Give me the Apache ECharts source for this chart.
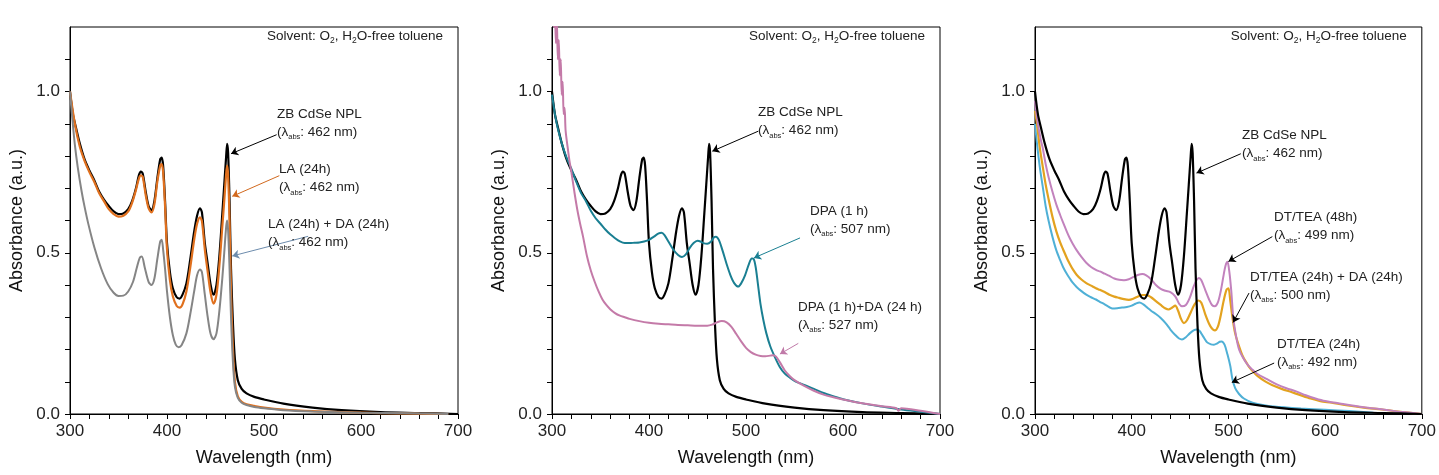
<!DOCTYPE html>
<html><head><meta charset="utf-8">
<script src="https://cdn.jsdelivr.net/npm/echarts@6/dist/echarts.min.js"></script>
<style>html,body{margin:0;padding:0;background:#fff}#c{width:1439px;height:475px}</style>
</head><body><div id="c"></div><script>
// ---- data: [wavelength (nm), absorbance (a.u.)] ----
const ZB_CdSe_NPL = [[300,1.00],[303,0.93],[306,0.89],[310,0.84],[315,0.79],[320,0.755],[325,0.725],[330,0.69],[335,0.665],[340,0.645],[345,0.628],[350,0.62],[355,0.622],[360,0.635],[364,0.66],[368,0.70],[371,0.74],[373,0.752],[375,0.745],[378,0.69],[381,0.645],[384,0.632],[387,0.66],[390,0.73],[393,0.79],[394.5,0.795],[396,0.77],[398,0.66],[400,0.53],[403,0.44],[406,0.39],[410,0.362],[413,0.358],[416,0.37],[420,0.405],[424,0.48],[428,0.565],[431,0.615],[434,0.638],[436,0.625],[439,0.53],[442,0.465],[445,0.40],[448,0.37],[451,0.40],[454,0.49],[457,0.62],[459,0.71],[461,0.80],[462,0.838],[463,0.81],[464.5,0.66],[466,0.45],[468,0.28],[470,0.17],[473,0.105],[477,0.078],[482,0.064],[490,0.053],[500,0.045],[520,0.032],[550,0.02],[580,0.012],[620,0.006],[660,0.003],[700,0.0]];
const LA_24h = [[300,1.0],[305,0.90],[310,0.83],[315,0.785],[320,0.75],[325,0.72],[330,0.685],[335,0.66],[340,0.635],[345,0.62],[350,0.612],[355,0.615],[360,0.628],[364,0.655],[368,0.695],[371,0.73],[373,0.74],[375,0.735],[378,0.68],[381,0.638],[384,0.625],[387,0.65],[390,0.72],[393,0.77],[394.5,0.775],[396,0.75],[398,0.645],[400,0.51],[403,0.415],[406,0.365],[410,0.335],[413,0.33],[416,0.34],[420,0.38],[424,0.455],[428,0.54],[431,0.59],[434,0.61],[436,0.598],[439,0.51],[442,0.44],[445,0.375],[448,0.342],[451,0.37],[454,0.46],[457,0.58],[459,0.66],[461,0.745],[462,0.77],[463,0.74],[464.5,0.6],[466,0.38],[468,0.2],[470,0.1],[473,0.055],[477,0.038],[482,0.03],[490,0.025],[500,0.02],[520,0.014],[550,0.009],[580,0.006],[620,0.003],[660,0.001],[690,0.0]];
const LA_24h_DA_24h = [[300,1.0],[302,0.93],[305,0.835],[308,0.765],[312,0.69],[315,0.643],[319,0.588],[325,0.518],[332,0.452],[339,0.402],[345,0.376],[350,0.366],[355,0.367],[360,0.38],[365,0.41],[369,0.455],[372,0.485],[374,0.488],[377,0.455],[381,0.41],[384,0.40],[387,0.42],[390,0.48],[393,0.535],[394.5,0.54],[396,0.51],[398,0.45],[400,0.38],[403,0.30],[406,0.245],[409,0.215],[412,0.207],[415,0.213],[420,0.25],[424,0.31],[428,0.38],[431,0.43],[434,0.448],[436,0.44],[439,0.37],[442,0.3],[445,0.248],[448,0.232],[451,0.25],[454,0.32],[457,0.42],[459,0.5],[461,0.58],[462,0.6],[463,0.57],[464.5,0.45],[466,0.3],[468,0.16],[470,0.085],[473,0.05],[477,0.035],[482,0.028],[490,0.022],[500,0.018],[520,0.012],[550,0.008],[600,0.004],[650,0.002],[690,0.0]];
const DPA_1h = [[300,0.99],[303,0.93],[306,0.885],[310,0.84],[315,0.795],[320,0.76],[325,0.72],[330,0.685],[335,0.66],[340,0.63],[345,0.607],[350,0.59],[355,0.572],[360,0.557],[365,0.545],[370,0.535],[375,0.53],[380,0.53],[385,0.531],[390,0.532],[395,0.535],[400,0.54],[405,0.55],[410,0.56],[413,0.562],[416,0.555],[420,0.535],[425,0.51],[430,0.493],[434,0.487],[438,0.495],[442,0.515],[446,0.53],[450,0.537],[453,0.535],[456,0.53],[460,0.528],[464,0.535],[467,0.548],[469,0.55],[472,0.54],[476,0.505],[480,0.465],[484,0.43],[488,0.405],[492,0.395],[495,0.405],[499,0.43],[503,0.465],[506,0.482],[508,0.48],[510,0.455],[512,0.41],[515,0.34],[518,0.29],[521,0.25],[525,0.21],[530,0.175],[535,0.145],[540,0.125],[545,0.113],[550,0.103],[560,0.09],[570,0.078],[580,0.065],[590,0.055],[600,0.046],[620,0.033],[640,0.023],[660,0.014],[680,0.007],[700,0.0]];
const DPA_1h_DA_24h = [[300,1.25],[301,1.3],[302,1.2],[303,1.26],[304,1.15],[305,1.22],[306,1.1],[307,1.16],[308,1.05],[309,1.1],[310,0.99],[311,1.03],[312,0.93],[313,0.95],[314,0.88],[316,0.83],[318,0.785],[320,0.75],[323,0.69],[326,0.635],[329,0.59],[332,0.55],[336,0.49],[340,0.445],[344,0.41],[348,0.38],[352,0.355],[356,0.338],[360,0.325],[365,0.313],[370,0.305],[375,0.3],[380,0.295],[390,0.288],[400,0.283],[410,0.28],[420,0.278],[430,0.276],[440,0.275],[450,0.274],[460,0.274],[465,0.277],[470,0.284],[475,0.288],[480,0.284],[485,0.27],[490,0.248],[495,0.225],[500,0.205],[505,0.192],[510,0.184],[515,0.18],[520,0.179],[525,0.181],[528,0.182],[531,0.178],[535,0.16],[540,0.135],[545,0.118],[550,0.105],[560,0.087],[570,0.072],[580,0.06],[590,0.052],[600,0.045],[620,0.033],[640,0.024],[655,0.018],[657,0.01],[660,0.018],[680,0.01],[700,0.0]];
const DTTEA_48h = [[300,0.97],[303,0.9],[306,0.85],[308,0.825],[311,0.775],[314,0.735],[318,0.69],[322,0.65],[326,0.617],[329,0.594],[333,0.565],[336,0.545],[339,0.528],[343,0.508],[348,0.487],[353,0.469],[358,0.456],[363,0.447],[367,0.442],[372,0.435],[377,0.428],[382,0.42],[387,0.416],[392,0.415],[397,0.418],[402,0.425],[407,0.432],[411,0.434],[415,0.43],[420,0.418],[425,0.4],[430,0.388],[435,0.382],[440,0.378],[445,0.365],[449,0.342],[452,0.334],[456,0.338],[460,0.36],[464,0.395],[467,0.415],[469.5,0.422],[472,0.415],[476,0.385],[480,0.355],[483,0.338],[486,0.334],[489,0.345],[492,0.38],[495,0.43],[497,0.46],[499,0.472],[501,0.44],[503,0.38],[505,0.3],[508,0.24],[511,0.2],[515,0.175],[520,0.152],[525,0.137],[530,0.124],[540,0.108],[550,0.092],[560,0.08],[570,0.07],[580,0.058],[590,0.048],[600,0.04],[620,0.03],[640,0.021],[660,0.014],[680,0.006],[700,0.0]];
const DTTEA_24h_DA_24h = [[300,0.94],[302,0.9],[305,0.825],[308,0.767],[311,0.712],[314,0.667],[318,0.612],[322,0.567],[326,0.532],[329,0.511],[333,0.483],[336,0.465],[339,0.449],[343,0.432],[348,0.417],[353,0.406],[358,0.398],[363,0.39],[367,0.385],[372,0.378],[377,0.37],[382,0.364],[387,0.36],[392,0.356],[397,0.354],[402,0.358],[407,0.365],[411,0.369],[415,0.369],[420,0.362],[425,0.35],[430,0.338],[435,0.327],[438,0.324],[442,0.33],[445,0.336],[448,0.32],[451,0.295],[454,0.282],[457,0.29],[461,0.315],[465,0.34],[469,0.352],[472,0.345],[476,0.31],[480,0.28],[483,0.265],[486,0.259],[489,0.27],[492,0.305],[495,0.35],[498,0.385],[500,0.39],[502,0.35],[504,0.303],[507,0.25],[511,0.21],[515,0.178],[521,0.148],[525,0.133],[530,0.118],[538,0.101],[545,0.09],[555,0.078],[565,0.068],[573,0.06],[585,0.048],[595,0.04],[607,0.035],[620,0.028],[640,0.02],[659,0.014],[680,0.006],[700,0.0]];
const DTTEA_24h = [[300,0.9],[302,0.84],[305,0.765],[308,0.705],[311,0.645],[314,0.6],[318,0.55],[322,0.508],[326,0.477],[329,0.456],[333,0.434],[336,0.42],[339,0.407],[343,0.394],[348,0.381],[353,0.37],[358,0.362],[363,0.355],[367,0.348],[372,0.34],[377,0.331],[380,0.327],[385,0.328],[390,0.33],[395,0.332],[400,0.336],[404,0.342],[408,0.346],[412,0.34],[416,0.33],[420,0.32],[425,0.31],[430,0.298],[435,0.282],[440,0.262],[445,0.245],[449,0.234],[452,0.231],[456,0.238],[460,0.25],[464,0.259],[467,0.262],[470,0.258],[474,0.24],[478,0.222],[482,0.216],[485,0.215],[488,0.218],[491,0.224],[493,0.225],[496,0.215],[499,0.185],[502,0.148],[504,0.11],[507,0.08],[511,0.062],[516,0.048],[525,0.035],[540,0.026],[560,0.02],[575,0.017],[600,0.013],[625,0.009],[650,0.004]];

const xTickLabels = [300, 400, 500, 600, 700];
const yTickLabels = ['0.0', '0.5', '1.0'];

const panelSeries = [
  [ {name:'ZB CdSe NPL', data:ZB_CdSe_NPL, color:'#000000', w:2.2},
    {name:'LA (24h)', data:LA_24h, color:'#e0701e', w:2.2},
    {name:'LA (24h) + DA (24h)', data:LA_24h_DA_24h, color:'#858585', w:2} ],
  [ {name:'ZB CdSe NPL', data:ZB_CdSe_NPL, color:'#000000', w:2.2},
    {name:'DPA (1 h)', data:DPA_1h, color:'#1a7f92', w:2},
    {name:'DPA (1 h)+DA (24 h)', data:DPA_1h_DA_24h, color:'#c47aa8', w:2} ],
  [ {name:'DT/TEA (24h)', data:DTTEA_24h, color:'#4fb0d6', w:2},
    {name:'DT/TEA (24h) + DA (24h)', data:DTTEA_24h_DA_24h, color:'#e3a21f', w:2.2},
    {name:'DT/TEA (48h)', data:DTTEA_48h, color:'#c282bd', w:2},
    {name:'ZB CdSe NPL', data:ZB_CdSe_NPL, color:'#000000', w:2.2} ]
];

// annotation text: [panel, left x (nm), first-line y (abs), title, peak]
const notes = [
  [0, 513.4, 0.929, 'ZB CdSe NPL', '462 nm'],
  [0, 515.5, 0.758, 'LA (24h)', '462 nm'],
  [0, 504.1, 0.587, 'LA (24h) + DA (24h)', '462 nm'],
  [1, 512.4, 0.935, 'ZB CdSe NPL', '462 nm'],
  [1, 566.0, 0.630, 'DPA (1 h)', '507 nm'],
  [1, 553.6, 0.332, 'DPA (1 h)+DA (24 h)', '527 nm'],
  [2, 514.1, 0.863, 'ZB CdSe NPL', '462 nm'],
  [2, 547.1, 0.609, 'DT/TEA (48h)', '499 nm'],
  [2, 522.4, 0.425, 'DT/TEA (24h) + DA (24h)', '500 nm'],
  [2, 550.2, 0.217, 'DT/TEA (24h)', '492 nm']
];
// arrows: [panel, from, to, colour]
const arrows = [
  [0, [513.0,0.866], [466.0,0.807], '#000000'],
  [0, [515.8,0.739], [467.3,0.675], '#d2691e'],
  [0, [545.5,0.551], [467.3,0.490], '#6d8cad'],
  [1, [512.7,0.877], [465.3,0.815], '#000000'],
  [1, [555.7,0.546], [508.2,0.484], '#1a7f92'],
  [1, [553.9,0.219], [535.0,0.186], '#c07aa8'],
  [2, [512.8,0.807], [467.0,0.747], '#000000'],
  [2, [545.4,0.550], [500.0,0.473], '#000000'],
  [2, [521.3,0.375], [504.8,0.284], '#000000'],
  [2, [547.3,0.158], [503.5,0.098], '#000000']
];
const solventPos = [684.5, 1.172];

const FONT = '"Liberation Sans", Arial, sans-serif';
const chart = echarts.init(document.getElementById('c'), null, {renderer:'canvas'});
const gridPos = [{left:70, right:981}, {left:552, right:499}, {left:1035, right:16}];

const option = {
  animation: false,
  backgroundColor: '#ffffff',
  grid: gridPos.map(g => ({left:g.left, right:g.right, top:27, bottom:61, show:true, borderColor:'#000', borderWidth:1})),
  xAxis: gridPos.map((g,i) => ({
    type:'value', gridIndex:i, min:300, max:700, interval:20,
    axisLine:{show:true, onZero:false, lineStyle:{color:'#000', width:1}},
    axisTick:{show:true, inside:false, length:5, lineStyle:{color:'#000'}},
    axisLabel:{fontSize:17, fontFamily:FONT, color:'#222', margin:9,
      formatter: v => xTickLabels.includes(Math.round(v)) && Math.abs(v-Math.round(v))<1e-6 ? String(Math.round(v)) : ''},
    splitLine:{show:false},
    name:'Wavelength (nm)', nameLocation:'middle', nameGap:35,
    nameTextStyle:{fontSize:18, fontFamily:FONT, color:'#111'}
  })),
  yAxis: gridPos.map((g,i) => ({
    type:'value', gridIndex:i, min:0, max:1.2, interval:0.1,
    axisLine:{show:true, onZero:false, lineStyle:{color:'#000', width:1}},
    axisTick:{show:true, inside:false, length:5, lineStyle:{color:'#000'}},
    axisLabel:{fontSize:17, fontFamily:FONT, color:'#222', margin:10, showMaxLabel:false,
      formatter: v => { const s = (Math.round(v*10)/10).toFixed(1); return yTickLabels.includes(s) ? s : ''; }},
    splitLine:{show:false},
    name:'Absorbance (a.u.)', nameLocation:'middle', nameGap:44,
    nameTextStyle:{fontSize:18, fontFamily:FONT, color:'#111'}
  })),
  series: []
};

panelSeries.forEach((list, pi) => {
  list.forEach((s, si) => {
    option.series.push({
      type:'line', name:s.name, xAxisIndex:pi, yAxisIndex:pi, data:s.data,
      showSymbol:false, symbol:'none', smooth:0.3,
      lineStyle:{color:s.color, width:s.w}, itemStyle:{color:s.color},
      silent:true, z: 2 + si
    });
  });
  // arrow annotations for this panel
  arrows.filter(a => a[0] === pi).forEach(a => {
    option.series.push({
      type:'lines', coordinateSystem:'cartesian2d', xAxisIndex:pi, yAxisIndex:pi,
      silent:true, z:8, polyline:false,
      symbol:['none','arrow'], symbolSize:7,
      lineStyle:{color:a[3], width:1, opacity:1},
      data:[{coords:[a[1], a[2]]}]
    });
  });
});

chart.setOption(option);

const richStyles = {
  t:{fontSize:13.5, fontFamily:FONT, fill:'#222', lineHeight:18},
  s:{fontSize:7.5, fontFamily:FONT, fill:'#222', lineHeight:11, verticalAlign:'bottom'}
};
const gfx = [];
notes.forEach(n => {
  const p = chart.convertToPixel({gridIndex:n[0]}, [n[1], n[2]]);
  gfx.push({type:'text', x:p[0], y:p[1]-9, silent:true, z:10,
    style:{text:'{t|' + n[3] + '}\n{t|(λ}{s|abs}{t|: ' + n[4] + ')}', rich:richStyles, align:'left', verticalAlign:'top'}});
});
[0,1,2].forEach(gi => {
  const p = chart.convertToPixel({gridIndex:gi}, solventPos);
  gfx.push({type:'text', x:p[0], y:p[1]-9, silent:true, z:10,
    style:{text:'{u|Solvent: O}{v|2}{u|, H}{v|2}{u|O-free toluene}',
      rich:{u:{fontSize:13.5, fontFamily:FONT, fill:'#222', lineHeight:18},
            v:{fontSize:8.5, fontFamily:FONT, fill:'#222', lineHeight:12, verticalAlign:'bottom'}},
      align:'right', verticalAlign:'top'}});
});
chart.setOption({graphic: gfx});
</script></body></html>
